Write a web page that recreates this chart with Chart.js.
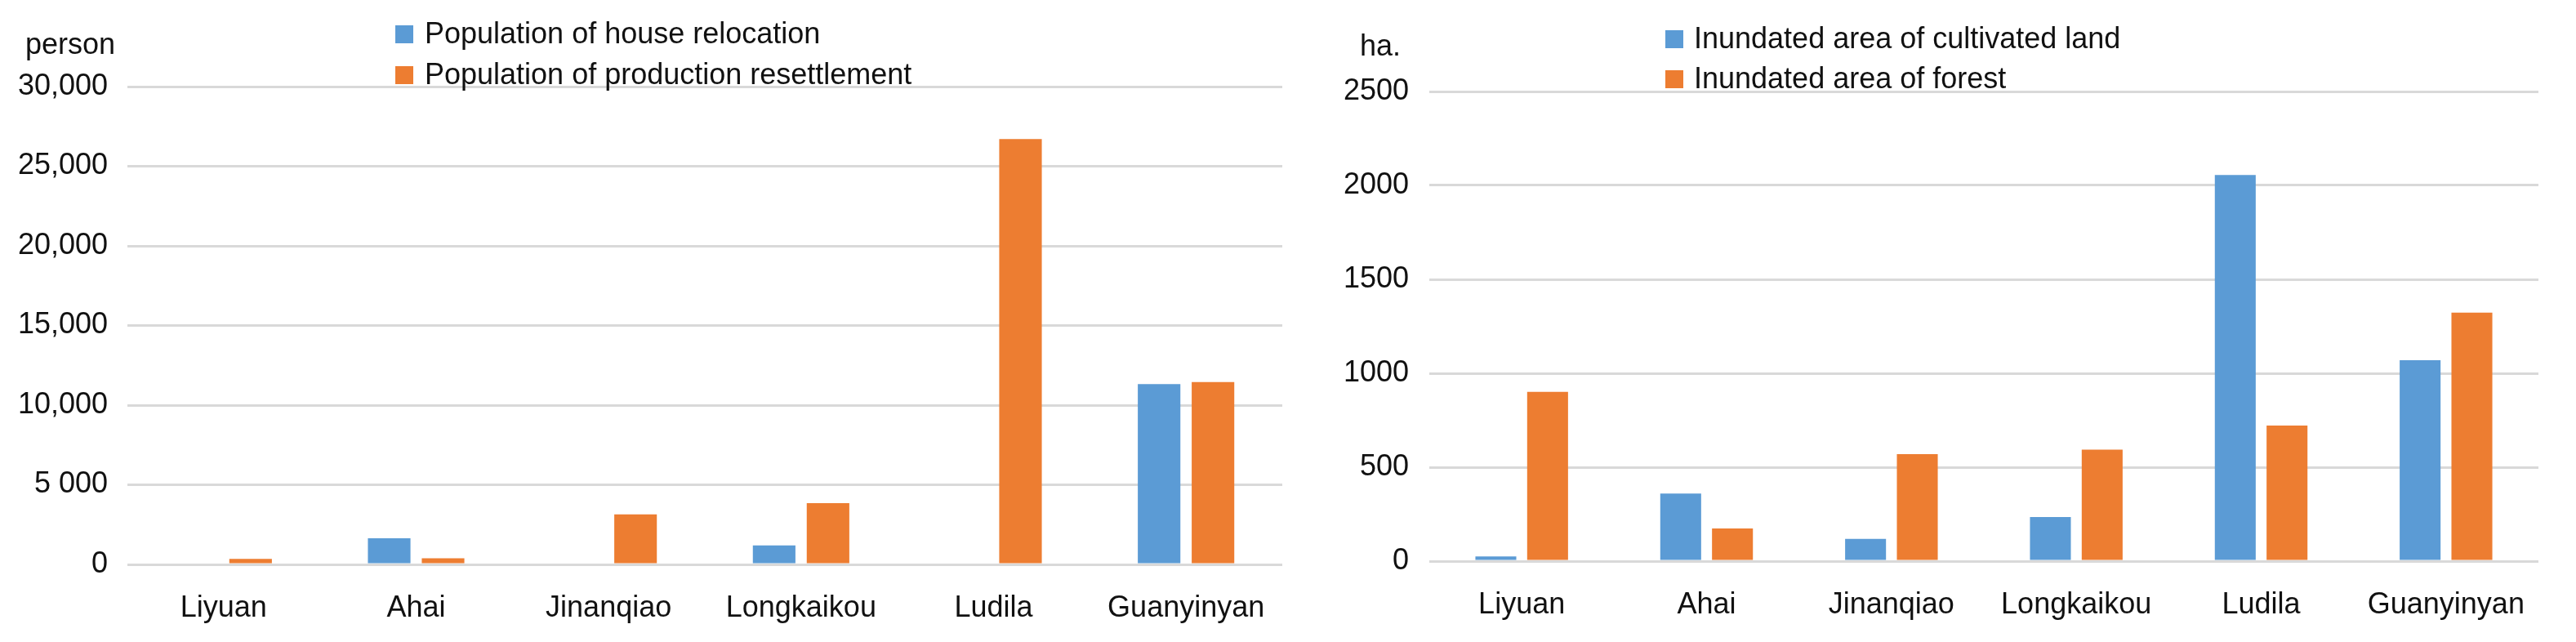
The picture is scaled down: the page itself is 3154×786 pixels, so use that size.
<!DOCTYPE html>
<html>
<head>
<meta charset="utf-8">
<script src="https://cdn.jsdelivr.net/npm/chart.js@4.4.0/dist/chart.umd.min.js"></script>
<style>
  html, body { margin: 0; padding: 0; background: #fff; }
  #wrap { position: relative; width: 3154px; height: 786px; overflow: hidden; }
  canvas { position: absolute; top: 0; }
  #popChart { left: 0; }
  #areaChart { left: 1580px; }
</style>
</head>
<body>
<div id="wrap">
  <canvas id="popChart" width="1580" height="786"></canvas>
  <canvas id="areaChart" width="1574" height="786"></canvas>
</div>
<script>
  // ----- DATA -----
  const categories = ['Liyuan', 'Ahai', 'Jinanqiao', 'Longkaikou', 'Ludila', 'Guanyinyan'];

  // left chart (person)
  const houseRelocation = [0, 1640, 0, 1190, 0, 11320];
  const productionResettlement = [350, 390, 3140, 3850, 26700, 11450];
  const popTicks = ['0', '5 000', '10,000', '15,000', '20,000', '25,000', '30,000'];

  // right chart (ha.)
  const cultivatedLand = [25, 360, 119, 235, 2055, 1070];
  const forestArea = [901, 174, 570, 593, 722, 1323];
  const areaTicks = ['0', '500', '1000', '1500', '2000', '2500'];

  const BLUE = '#5b9bd5';
  const ORANGE = '#ed7d31';
  const FONT = "'Liberation Sans', Arial, sans-serif";
  const TEXT = '#111111';

  Chart.defaults.font.family = FONT;
  Chart.defaults.font.size = 36;
  Chart.defaults.color = TEXT;

  // unit label + stacked legend drawn on top of the plot
  const overlay = {
    id: 'overlay',
    afterDraw(chart, args, opts) {
      const ctx = chart.ctx;
      ctx.save();
      ctx.font = '36px ' + FONT;
      ctx.fillStyle = TEXT;
      ctx.textBaseline = 'middle';
      ctx.textAlign = 'left';
      ctx.fillText(opts.unit, opts.unitX, opts.unitY);
      chart.data.datasets.forEach((ds, i) => {
        const y = opts.legendY[i];
        ctx.fillStyle = ds.backgroundColor;
        ctx.fillRect(opts.boxX, y - 11, 22, 22);
        ctx.fillStyle = TEXT;
        ctx.fillText(ds.label, opts.textX, y + 1);
      });
      ctx.restore();
    }
  };

  function makeChart(id, cfg) {
    return new Chart(document.getElementById(id).getContext('2d'), {
      type: 'bar',
      data: {
        labels: categories,
        datasets: cfg.series.map(s => ({
          label: s.label,
          data: s.data,
          backgroundColor: s.color,
          borderWidth: 0,
          categoryPercentage: 0.56,
          barPercentage: 0.79
        }))
      },
      options: {
        responsive: false,
        animation: false,
        layout: { padding: { left: 0, top: cfg.top, right: cfg.right, bottom: 0 } },
        plugins: {
          legend: { display: false },
          tooltip: { enabled: false },
          overlay: cfg.overlay
        },
        scales: {
          x: {
            grid: { display: false },
            border: { display: false },
            ticks: { padding: 24, maxRotation: 0, color: TEXT },
            afterFit: (s) => { s.height = cfg.xHeight; }
          },
          y: {
            min: 0,
            max: cfg.max,
            grid: { color: '#d9d9d9', lineWidth: 3, drawTicks: false },
            border: { display: false },
            ticks: {
              stepSize: cfg.step,
              padding: cfg.tickPad,
              color: TEXT,
              callback: (v, i) => cfg.ticks[i]
            },
            afterFit: (s) => { s.width = cfg.yWidth; }
          }
        }
      },
      plugins: [overlay]
    });
  }

  makeChart('popChart', {
    series: [
      { label: 'Population of house relocation', data: houseRelocation, color: BLUE },
      { label: 'Population of production resettlement', data: productionResettlement, color: ORANGE }
    ],
    max: 30000, step: 5000, ticks: popTicks,
    top: 106, right: 10, xHeight: 95, yWidth: 156, tickPad: 24,
    overlay: { unit: 'person', unitX: 31, unitY: 56, boxX: 484, textX: 520, legendY: [42, 92] }
  });

  makeChart('areaChart', {
    series: [
      { label: 'Inundated area of cultivated land', data: cultivatedLand, color: BLUE },
      { label: 'Inundated area of forest', data: forestArea, color: ORANGE }
    ],
    max: 2500, step: 500, ticks: areaTicks,
    top: 112, right: 46, xHeight: 99, yWidth: 170, tickPad: 25,
    overlay: { unit: 'ha.', unitX: 85, unitY: 58, boxX: 459, textX: 494, legendY: [48, 97] }
  });
</script>
</body>
</html>
